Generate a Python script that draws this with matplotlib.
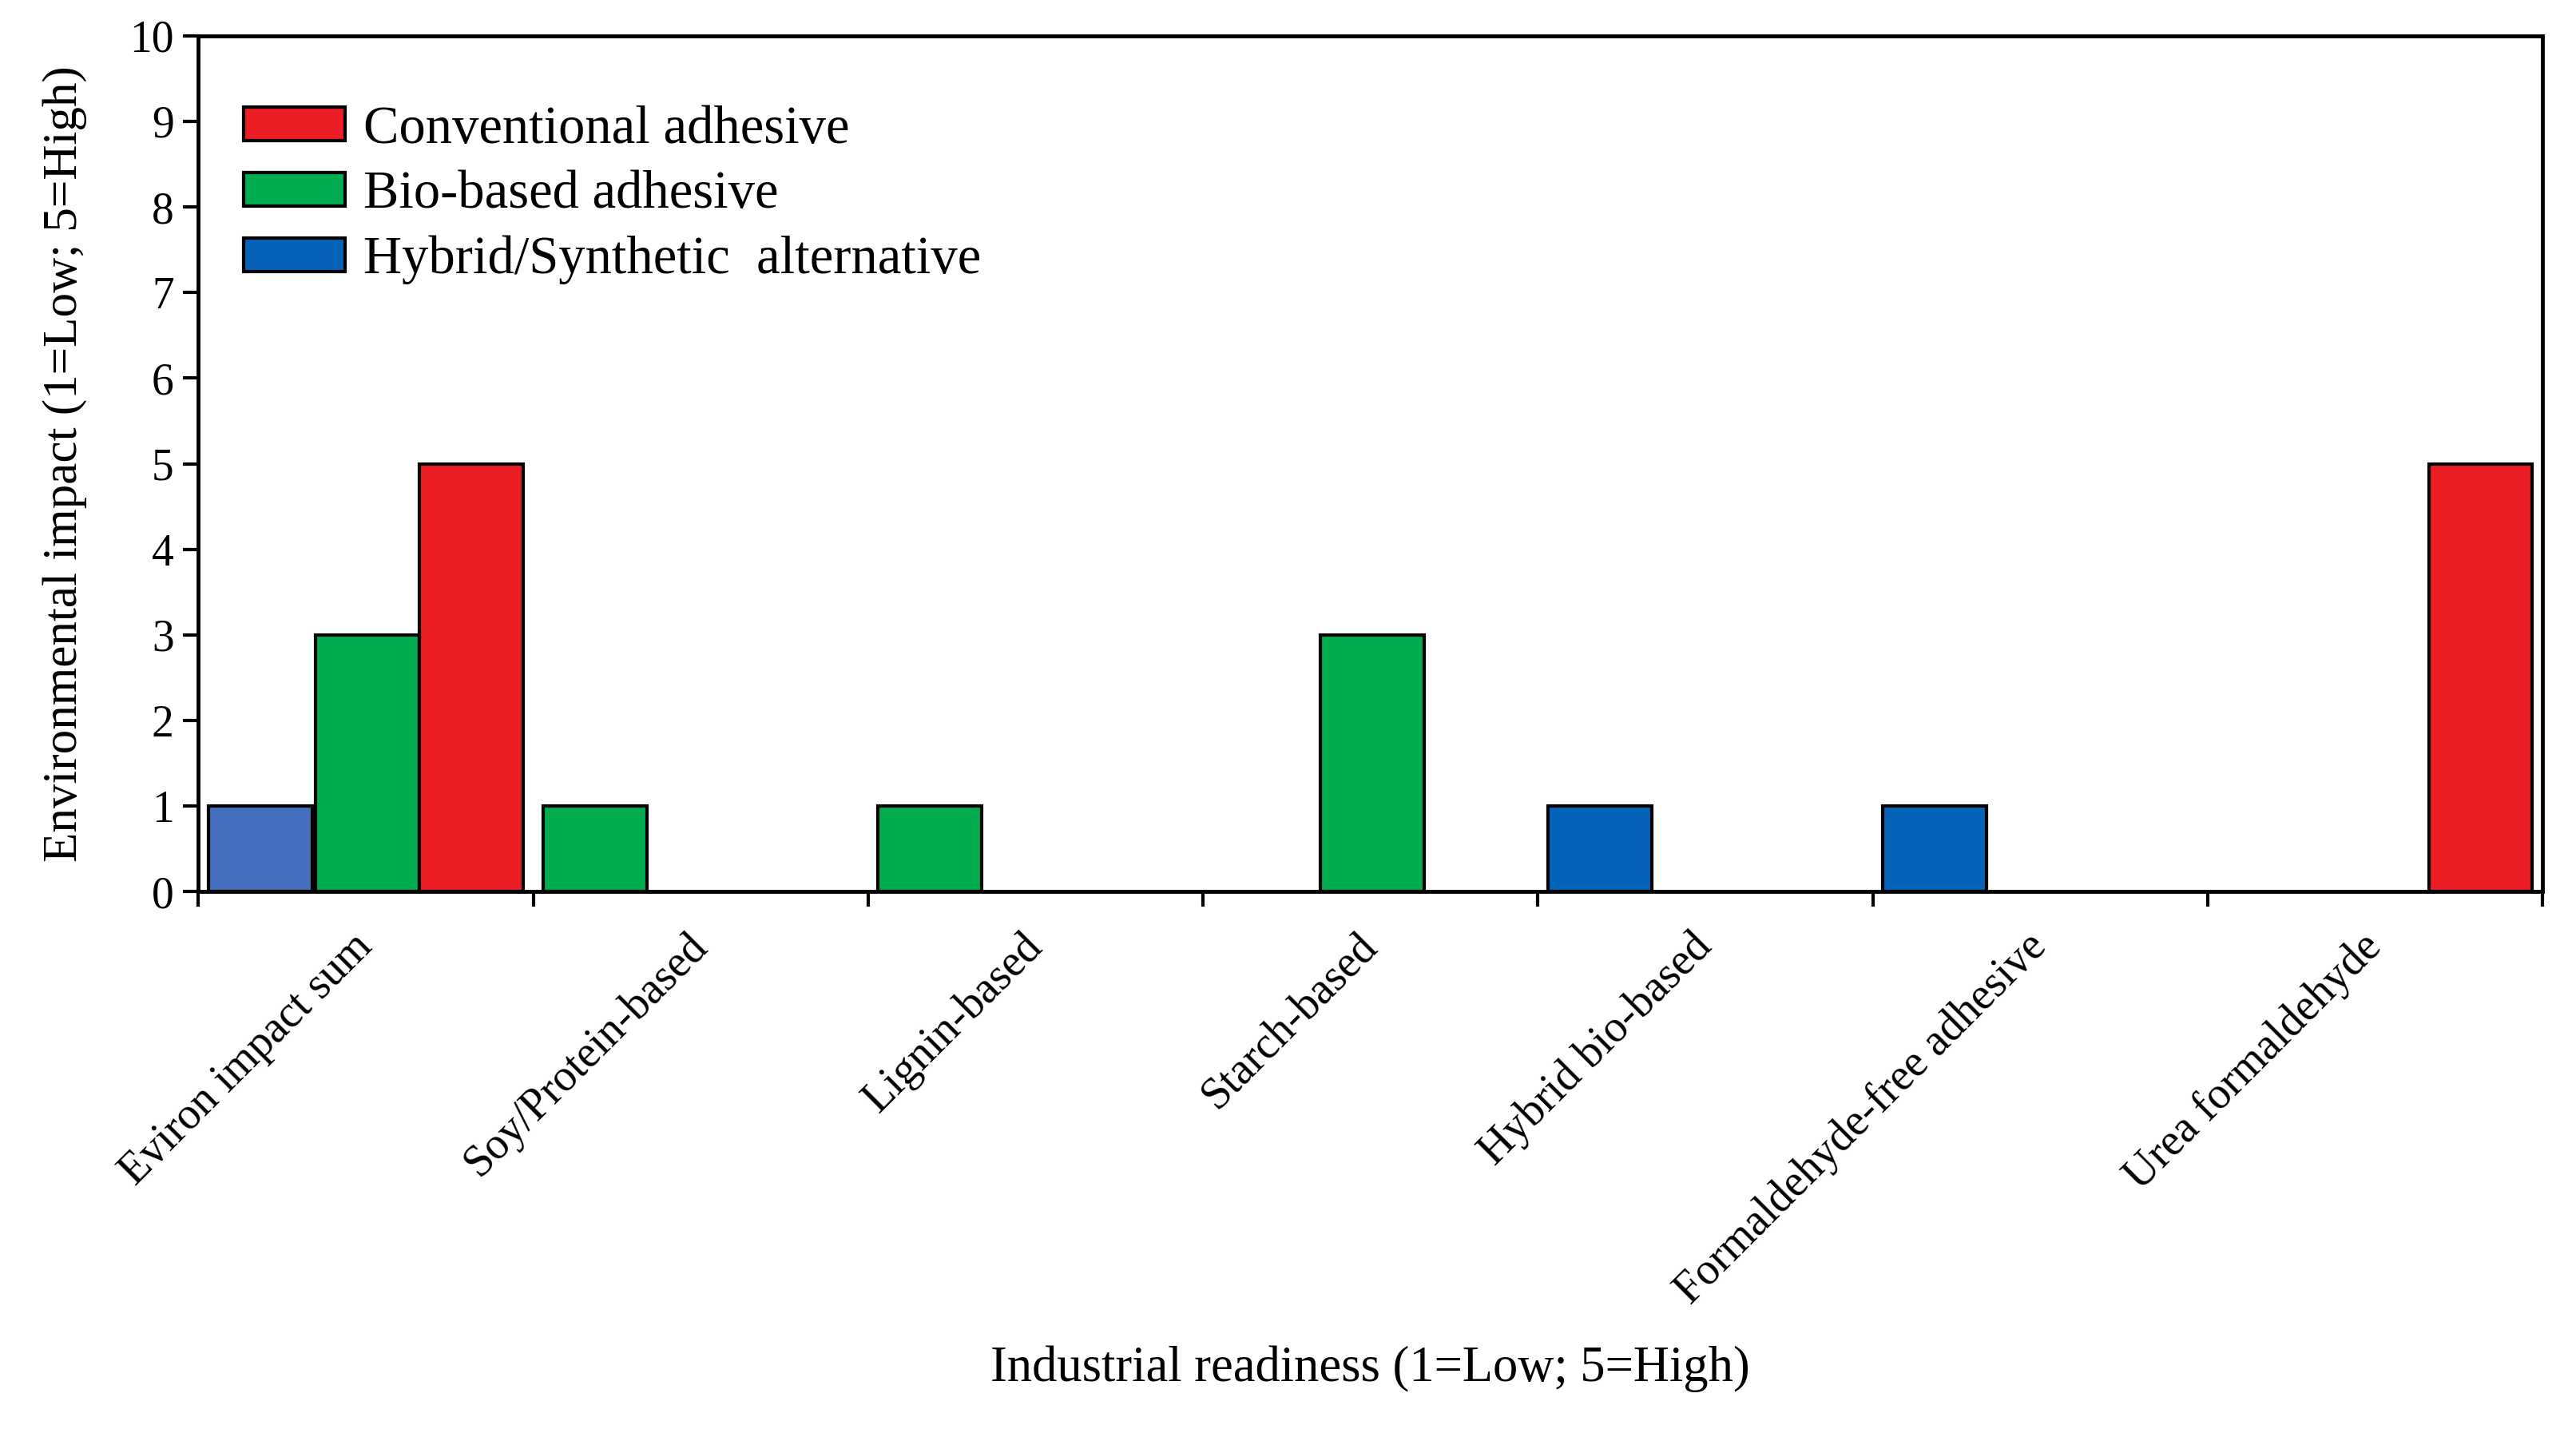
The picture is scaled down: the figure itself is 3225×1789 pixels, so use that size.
import numpy as np
import matplotlib
matplotlib.use('Agg')
import matplotlib.pyplot as plt
from matplotlib.patches import Patch

plt.rcParams['font.family'] = ['Liberation Serif', 'DejaVu Serif']

# categories along the x axis
categories = ['Eviron impact sum', 'Soy/Protein-based', 'Lignin-based', 'Starch-based',
              'Hybrid bio-based', 'Formaldehyde-free adhesive', 'Urea formaldehyde']

# one entry per drawn bar
bar_cat = [0, 0, 0, 1, 2, 3, 4, 5, 6]
bar_slot = [0, 1, 2, 0, 0, 1, 0, 0, 2]
bar_val = [1, 3, 5, 1, 1, 3, 1, 1, 5]
bar_kind = ['hybrid', 'bio', 'conv', 'bio', 'bio', 'bio', 'hybrid', 'hybrid', 'conv']

legend_kinds = ['conv', 'bio', 'hybrid']
legend_labels = ['Conventional adhesive', 'Bio-based adhesive', 'Hybrid/Synthetic  alternative']

colors = {'conv': '#EC1C24', 'bio': '#00AC4E', 'hybrid': '#0563B9'}
first_blue = '#4570BE'

slot_centers = [0.185, 0.505, 0.815]
width = 0.31

fig = plt.figure(figsize=(32.25, 17.89), dpi=100)
ax = fig.add_axes([0.077, 0.376, 0.910, 0.599])

for i in range(len(bar_val)):
    x = bar_cat[i] + slot_centers[bar_slot[i]]
    c = colors[bar_kind[i]]
    if i == 0:
        c = first_blue
    ax.bar(x, bar_val[i], width=width, color=c, edgecolor='black', linewidth=3, zorder=3)

ax.set_xlim(0, len(categories))
ax.set_ylim(0, 10)
ax.set_yticks(range(0, 11))
ax.set_xticks(range(0, len(categories) + 1))
ax.set_xticklabels([])
ax.set_xticks(np.arange(len(categories)) + 0.5, minor=True)
ax.set_xticklabels(categories, minor=True, rotation=45, ha='right', va='center',
                   rotation_mode='anchor', fontsize=40)
ax.tick_params(axis='x', which='minor', length=0, pad=44)
ax.tick_params(axis='x', which='major', direction='out', length=14, width=3)
ax.tick_params(axis='y', direction='out', length=14, width=3, labelsize=40, pad=8)

for s in ax.spines.values():
    s.set_linewidth(3.5)

ax.set_xlabel('Industrial readiness (1=Low; 5=High)', fontsize=45, labelpad=30)
ax.set_ylabel('Environmental impact (1=Low; 5=High)', fontsize=44, labelpad=38)

handles = [Patch(facecolor=colors[k], edgecolor='black', linewidth=3) for k in legend_kinds]
ax.legend(handles, legend_labels, loc='upper left', bbox_to_anchor=(-0.001, 0.975),
          frameon=False, fontsize=48, handlelength=1.9, handleheight=0.6,
          labelspacing=0.31, handletextpad=0.35)

fig.savefig('out.png', dpi=100)
